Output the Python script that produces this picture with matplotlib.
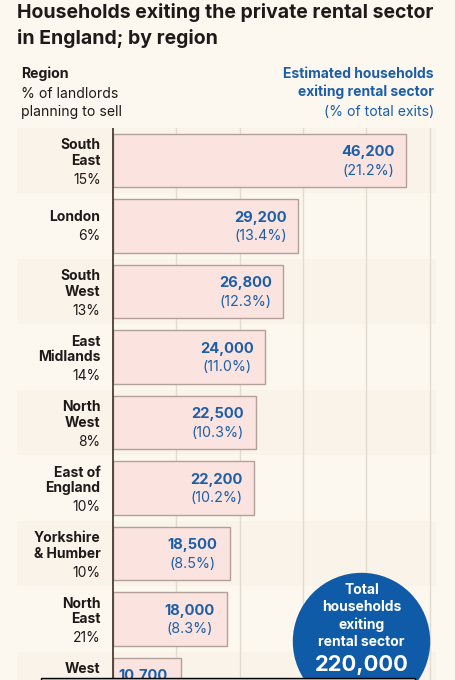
import matplotlib.pyplot as plt
from matplotlib.patches import Circle, Rectangle

regions = ['South\nEast', 'London', 'South\nWest', 'East\nMidlands', 'North\nWest',
           'East of\nEngland', 'Yorkshire\n& Humber', 'North\nEast', 'West']
landlords_selling = ['15%', '6%', '13%', '14%', '8%', '10%', '10%', '21%', '']
households = [46200, 29200, 26800, 24000, 22500, 22200, 18500, 18000, 10700]
share = [21.2, 13.4, 12.3, 11.0, 10.3, 10.2, 8.5, 8.3, None]  # last one is off the picture
total_households = 220000

BG = '#fcf7ef'
BAND = '#f9f3ea'
BAR = '#fbe4df'
BAR_EDGE = '#b3a09a'
BLUE = '#1c5ea8'
DARK = '#1e1a18'

plt.rcParams['font.family'] = ['Inter', 'DejaVu Sans']

W, H = 456, 680
fig = plt.figure(figsize=(W / 100, H / 100), dpi=100, facecolor=BG)

# axes spans x 17..436 px, zero sits at 113 px; one row = 65.5 px
px_per_k = 6.334
x_left = (17 - 113) / px_per_k * 1000
x_right = (436 - 113) / px_per_k * 1000
top_px = 127.75
ax = fig.add_axes([17 / W, 0, (436 - 17) / W, (H - top_px) / H])
ax.set_facecolor('none')
ax.set_xlim(x_left, x_right)
ax.set_ylim((H - 160.5) / 65.5, -0.5)
ax.axis('off')

for i in range(len(regions)):
    if i % 2 == 0:
        ax.axhspan(i - 0.5, i + 0.5, color=BAND, zorder=0, lw=0)

for g in range(10000, 60000, 10000):
    ax.axvline(g, color='#e3dbcf', lw=1, zorder=1)
ax.axvline(0, color='#4a3d38', lw=1.3, zorder=4)

ax.barh(range(len(regions)), households, height=0.82, color=BAR,
        edgecolor=BAR_EDGE, lw=1, zorder=3)

lab = dict(textcoords='offset points', ha='right', va='center', color=DARK,
           zorder=5, annotation_clip=False)
for i, (name, pct, val, sh) in enumerate(zip(regions, landlords_selling, households, share)):
    two = '\n' in name
    # region name block, vertically centred on bar; West row is cut at the bottom
    if i == len(regions) - 1:
        ax.annotate(name, (0, i), xytext=(-9, 10.8), fontsize=10, fontweight='bold', **lab)
    else:
        ax.annotate(name, (0, i), xytext=(-9, 5.4 if two else 6.5), fontsize=10,
                    fontweight='bold', linespacing=1.12, **lab)
        ax.annotate(pct, (0, i), xytext=(-9, -14 if two else -7.2), fontsize=10, **lab)
    ax.annotate(f'{val:,}', (val, i), xytext=(-27, 6), textcoords='offset points',
                ha='center', va='center', fontsize=10.6, fontweight='bold',
                color=BLUE, zorder=5, annotation_clip=False)
    if sh is not None:
        ax.annotate(f'({sh:.1f}%)', (val, i), xytext=(-27, -7.5), textcoords='offset points',
                    ha='center', va='center', fontsize=10.3, color=BLUE, zorder=5,
                    annotation_clip=False)

# title and headers
fig.text(17 / W, 1 - 12 / H, 'Households exiting the private rental sector',
         ha='left', va='center', fontsize=14, fontweight='bold', color=DARK)
fig.text(17 / W, 1 - 38 / H, 'in England; by region',
         ha='left', va='center', fontsize=14, fontweight='bold', color=DARK)
fig.text(21 / W, 1 - 74 / H, 'Region', ha='left', va='center', fontsize=10.2,
         fontweight='bold', color=DARK)
fig.text(21 / W, 1 - 94 / H, '% of landlords', ha='left', va='center',
         fontsize=10.1, color=DARK)
fig.text(21 / W, 1 - 112 / H, 'planning to sell', ha='left', va='center',
         fontsize=10.1, color=DARK)
fig.text(434 / W, 1 - 74 / H, 'Estimated households', ha='right',
         va='center', fontsize=10, fontweight='bold', color=BLUE)
fig.text(434 / W, 1 - 92 / H, 'exiting rental sector', ha='right',
         va='center', fontsize=10, fontweight='bold', color=BLUE)
fig.text(434 / W, 1 - 112 / H, '(% of total exits)', ha='right', va='center',
         fontsize=10.1, color=BLUE)

# total bubble
circ = Circle((361.5 / 100, (H - 641.5) / 100), 0.687, transform=fig.dpi_scale_trans,
              facecolor='#0f5ba8', edgecolor='none', zorder=10)
fig.patches.append(circ)
for k, line in enumerate(['Total', 'households', 'exiting', 'rental sector']):
    fig.text(361.5 / W, 1 - (590 + 17.3 * k) / H, line, ha='center', va='center',
             fontsize=10, fontweight='bold', color='white', zorder=11)
fig.text(361.5 / W, 1 - 665 / H, f'{total_households:,}', ha='center', va='center',
         fontsize=15.8, fontweight='bold', color='white', zorder=11)

# strip at bottom edge
fig.patches.append(Rectangle((41 / W, 0), (415 - 41) / W, 2.5 / H, transform=fig.transFigure,
                             facecolor='white', edgecolor='black', lw=1, zorder=12))

fig.savefig('out.png', dpi=100, facecolor=BG)
